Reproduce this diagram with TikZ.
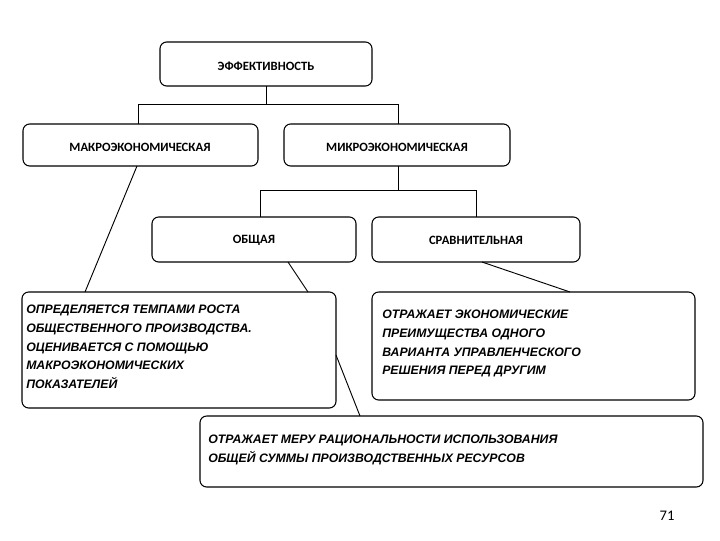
\documentclass[tikz,border=0pt]{standalone}
\usepackage{fontspec}
\setmainfont{Carlito}
\newfontfamily\itf{Liberation Sans}
\begin{document}
\begin{tikzpicture}[x=0.75pt,y=-0.75pt,
 lb/.style={font=\bfseries\fontsize{9.5}{12}\selectfont},
 bx/.style={draw,rounded corners=5pt,line width=0.8pt},
 tx/.style={font=\itf\bfseries\itshape\fontsize{9.2}{14}\selectfont,align=left,anchor=north west,inner sep=0pt},
 ln/.style={line width=0.7pt}]
\useasboundingbox (0,0) rectangle (720,540);
\draw[bx] (160,42) rectangle (372,86); \node[lb] (ef) at (266,66) {ЭФФЕКТИВНОСТЬ};
\draw[bx] (23,124) rectangle (258,166); \node[lb] (ma) at (140,147) {МАКРОЭКОНОМИЧЕСКАЯ};
\draw[bx] (284,124) rectangle (510,166); \node[lb] (mi) at (397,147) {МИКРОЭКОНОМИЧЕСКАЯ};
\draw[bx] (152,217) rectangle (356,262); \node[lb] (ob) at (254,240) {ОБЩАЯ};
\draw[bx] (372,217) rectangle (580,262); \node[lb] (sr) at (476,240) {СРАВНИТЕЛЬНАЯ};
\draw[bx] (22,292) rectangle (336,408);
\draw[bx] (372,292) rectangle (695,400);
\draw[bx] (200,416) rectangle (703,487);
\node[tx] (t1) at (26,305) {ОПРЕДЕЛЯЕТСЯ ТЕМПАМИ РОСТА\\ОБЩЕСТВЕННОГО ПРОИЗВОДСТВА.\\ ОЦЕНИВАЕТСЯ С ПОМОЩЬЮ\\ МАКРОЭКОНОМИЧЕСКИХ\\ПОКАЗАТЕЛЕЙ};
\node[tx] (t2) at (382,310) {ОТРАЖАЕТ ЭКОНОМИЧЕСКИЕ\\ПРЕИМУЩЕСТВА ОДНОГО\\ВАРИАНТА УПРАВЛЕНЧЕСКОГО\\ РЕШЕНИЯ ПЕРЕД ДРУГИМ};
\node[tx] (t3) at (208,435) {ОТРАЖАЕТ МЕРУ РАЦИОНАЛЬНОСТИ ИСПОЛЬЗОВАНИЯ\\ ОБЩЕЙ СУММЫ ПРОИЗВОДСТВЕННЫХ РЕСУРСОВ};
\node[font=\fontsize{11}{12}\selectfont] (n) at (667,516) {71};
\coordinate (a1) at (266,86); \coordinate (a2) at (266,104);
\coordinate (a3) at (138,104); \coordinate (a4) at (398,104);
\draw[ln] (a1)--(a2) (a3)--(a4) (a3)--(138,124) (a4)--(398,124);
\coordinate (b1) at (398,166); \coordinate (b2) at (398,190);
\coordinate (b3) at (260,190); \coordinate (b4) at (476,190);
\draw[ln] (b1)--(b2) (b3)--(b4) (b3)--(260,217) (b4)--(476,217);
\draw[ln] (137,166)--(85,292);
\draw[ln] (288,262)--(308,292);
\draw[ln] (336,355)--(360,416);
\draw[ln] (482,262)--(570,292);
\end{tikzpicture}
\end{document}
